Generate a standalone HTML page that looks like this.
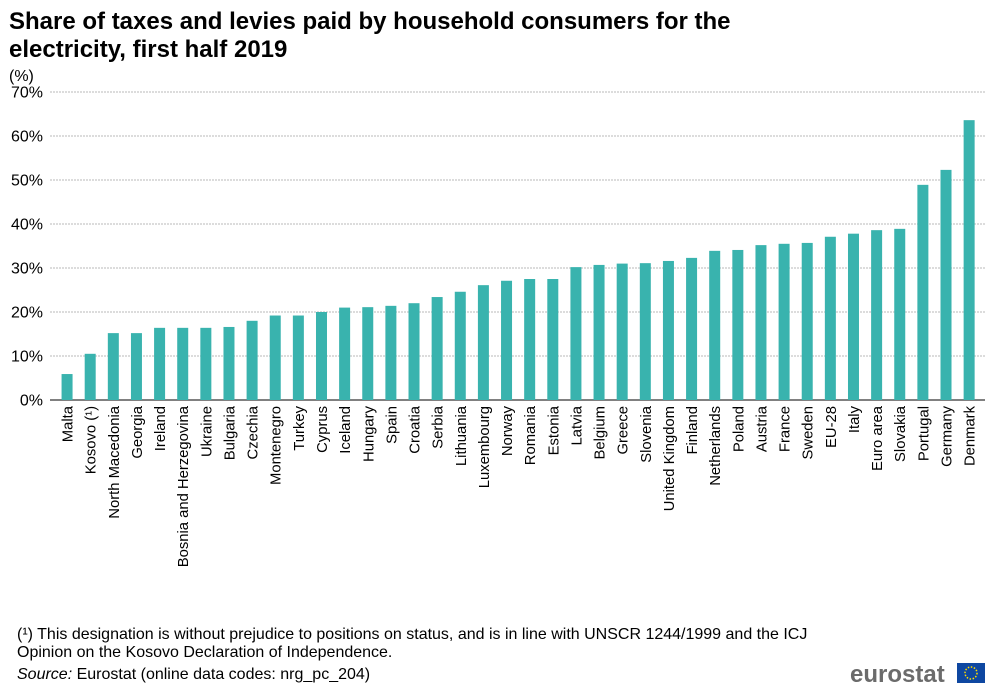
<!DOCTYPE html>
<html><head><meta charset="utf-8"><style>
body{margin:0;background:#fff;font-family:"Liberation Sans",Arial,sans-serif;}
svg text{font-family:"Liberation Sans",Arial,sans-serif;}
</style></head><body>
<svg id="c" width="1001" height="692" xmlns="http://www.w3.org/2000/svg">
<text x="9" y="29" font-size="24" font-weight="bold" fill="#000">Share of taxes and levies paid by household consumers for the</text>
<text x="9" y="57" font-size="24" font-weight="bold" fill="#000">electricity, first half 2019</text>
<text x="9" y="81" font-size="16" fill="#000">(%)</text>
<g id="grid"></g><g id="bars"></g><g id="xl"></g>
<text x="17" y="639" font-size="16" fill="#000">(¹) This designation is without  prejudice to positions on status, and is in line with UNSCR 1244/1999 and the ICJ</text>
<text x="17" y="657" font-size="16" fill="#000">Opinion on the Kosovo Declaration of Independence.</text>
<text x="17" y="679" font-size="16" fill="#000"><tspan font-style="italic">Source:</tspan> Eurostat (online data codes: nrg_pc_204)</text>
<text x="850" y="682" font-size="24" font-weight="bold" fill="#6b6b6b">eurostat</text>
<rect x="957" y="663" width="28" height="20" fill="#0e47a1"/>
<circle cx="971" cy="673" r="6" fill="none" stroke="#ffdd00" stroke-width="1.5" stroke-dasharray="1.5 1.6"/>
</svg>
<script>
const categories=["Malta","Kosovo (¹)","North Macedonia","Georgia","Ireland","Bosnia and Herzegovina","Ukraine","Bulgaria","Czechia","Montenegro","Turkey","Cyprus","Iceland","Hungary","Spain","Croatia","Serbia","Lithuania","Luxembourg","Norway","Romania","Estonia","Latvia","Belgium","Greece","Slovenia","United Kingdom","Finland","Netherlands","Poland","Austria","France","Sweden","EU-28","Italy","Euro area","Slovakia","Portugal","Germany","Denmark"];
const values=[5.9,10.5,15.2,15.2,16.4,16.4,16.4,16.6,18.0,19.2,19.2,20.0,21.0,21.1,21.4,22.0,23.4,24.6,26.1,27.1,27.5,27.5,30.2,30.7,31.0,31.1,31.6,32.3,33.9,34.1,35.2,35.5,35.7,37.1,37.8,38.6,38.9,48.9,52.3,63.6];
const ticks=[0,10,20,30,40,50,60,70];
const NS="http://www.w3.org/2000/svg";
const y0=400,yTop=92,vMax=70,xL=55.5,xR=980.7,axL=50;
const y=v=>y0-(v/vMax)*(y0-yTop);
const step=(xR-xL)/categories.length;
const x=i=>xL+step*(i+0.5);
const g=document.getElementById('grid'),b=document.getElementById('bars'),xl=document.getElementById('xl');
function mk(t,a,p){const e=document.createElementNS(NS,t);for(const k in a)e.setAttribute(k,a[k]);p.appendChild(e);return e;}
ticks.forEach(t=>{
 const l=mk('line',{x1:axL,x2:985,y1:y(t),y2:y(t),stroke:t===0?'#000':'#b8b8b8','stroke-dasharray':t===0?'':'2 1','stroke-width':1},g);
 
 
 const tx=mk('text',{x:43,y:y(t)+5.5,'font-size':16,'text-anchor':'end',fill:'#000'},g);
 tx.textContent=t+'%';
 
 
});
categories.forEach((c,i)=>{
 const r=mk('rect',{x:x(i)-5.5,y:y(values[i]),width:11,height:y0-y(values[i]),fill:'#39b3ae'},b);
 
 
 const t=mk('text',{'font-size':14.8,'text-anchor':'end',fill:'#000',transform:`translate(${x(i)+5.5},406) rotate(-90)`},xl);
 t.textContent=c;
 
 
});
</script>
</body></html>
